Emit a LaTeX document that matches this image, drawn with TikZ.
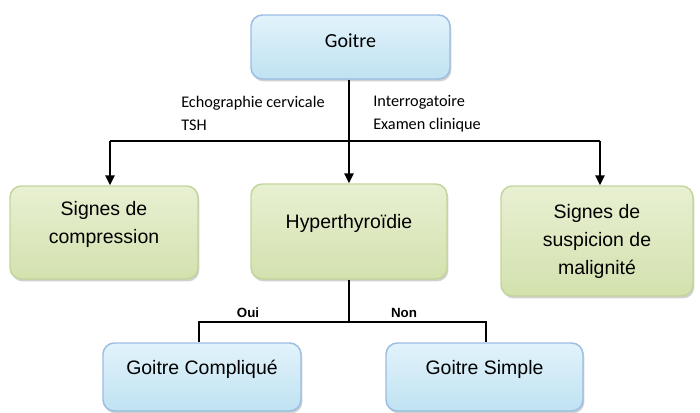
\documentclass[tikz,border=0pt]{standalone}
\usepackage{fontspec}
\setmainfont{Liberation Sans}
\newfontfamily\calib{Carlito}
\usetikzlibrary{arrows.meta,shadows}
\definecolor{bluetop}{HTML}{E2F3FB}
\definecolor{bluebot}{HTML}{BFE2F2}
\definecolor{blueline}{HTML}{9BBCE3}
\definecolor{greentop}{HTML}{E8F0D2}
\definecolor{greenbot}{HTML}{D3E1AE}
\definecolor{greenline}{HTML}{C2D59B}
\tikzset{
  boxbase/.style={rounded corners=8.5pt, line width=1.1pt, inner sep=0pt,
    drop shadow={shadow xshift=1pt, shadow yshift=-1.8pt, opacity=0.3, fill=black!60}},
  bluebox/.style={boxbase, draw=blueline, top color=bluetop, bottom color=bluebot},
  greenbox/.style={boxbase, draw=greenline, top color=greentop, bottom color=greenbot},
  boxtext/.style={font=\fontsize{14.6}{21}\selectfont, align=center, inner sep=0pt},
  labeltext/.style={font=\calib\fontsize{12.2}{17.3}\selectfont, align=left, inner sep=0pt, anchor=west},
  yesno/.style={font=\bfseries\fontsize{10}{12}\selectfont, inner sep=0pt},
  conn/.style={line width=1.1pt, black},
  arr/.style={conn, -{Triangle[width=7pt,length=7.5pt]}}
}
\begin{document}
\begin{tikzpicture}[x=0.75pt,y=-0.75pt]
\useasboundingbox (0,0) rectangle (700,412);
% boxes
\node[bluebox, minimum width=199*0.75pt, minimum height=64*0.75pt] (goitre) at (350.5,47) {};
\node[font=\calib\fontsize{15}{18}\selectfont, inner sep=0pt] (goitretxt) at (350.5,41) {Goitre};

\node[greenbox, minimum width=188*0.75pt, minimum height=93*0.75pt] (comp) at (104,232.5) {};
\node[boxtext] (comptxt) at (104,224) {Signes de\\compression};

\node[greenbox, minimum width=196*0.75pt, minimum height=95*0.75pt] (hyper) at (349,231.5) {};
\node[boxtext] (hypertxt) at (349,223) {Hyperthyroïdie};

\node[greenbox, minimum width=192*0.75pt, minimum height=110*0.75pt] (malig) at (597,241) {};
\node[boxtext] (maligtxt) at (597,241) {Signes de\\suspicion de\\malignité};

\node[bluebox, minimum width=198*0.75pt, minimum height=68*0.75pt] (compl) at (202,377) {};
\node[boxtext] (compltxt) at (202,369.5) {Goitre Compliqué};

\node[bluebox, minimum width=197*0.75pt, minimum height=68*0.75pt] (simple) at (484.5,377) {};
\node[boxtext] (simpletxt) at (484.5,369.5) {Goitre Simple};

% labels
\node[labeltext] (lab1) at (181,113.5) {Echographie cervicale\\TSH};
\node[labeltext] (lab2) at (373,113.5) {Interrogatoire\\Examen clinique};
\node[yesno] (oui) at (248,313) {Oui};
\node[yesno] (non) at (404,313) {Non};

% top connectors
\coordinate (splitL) at (110,141);
\coordinate (splitR) at (600,141);
\draw[arr] (goitre.south -| hyper.north) -- (hyper.north);
\draw[conn] (splitL) -- (splitR);
\draw[arr] (splitL) -- (splitL |- comp.north);
\draw[arr] (splitR) -- (splitR |- malig.north);

% bottom connectors
\coordinate (hb) at (349,322);
\coordinate (legL) at (199,322);
\coordinate (legR) at (486,322);
\draw[conn] (hyper.south) -- (hb);
\draw[conn] (legL |- compl.north) -- (legL) -- (legR) -- (legR |- simple.north);
\end{tikzpicture}
\end{document}
